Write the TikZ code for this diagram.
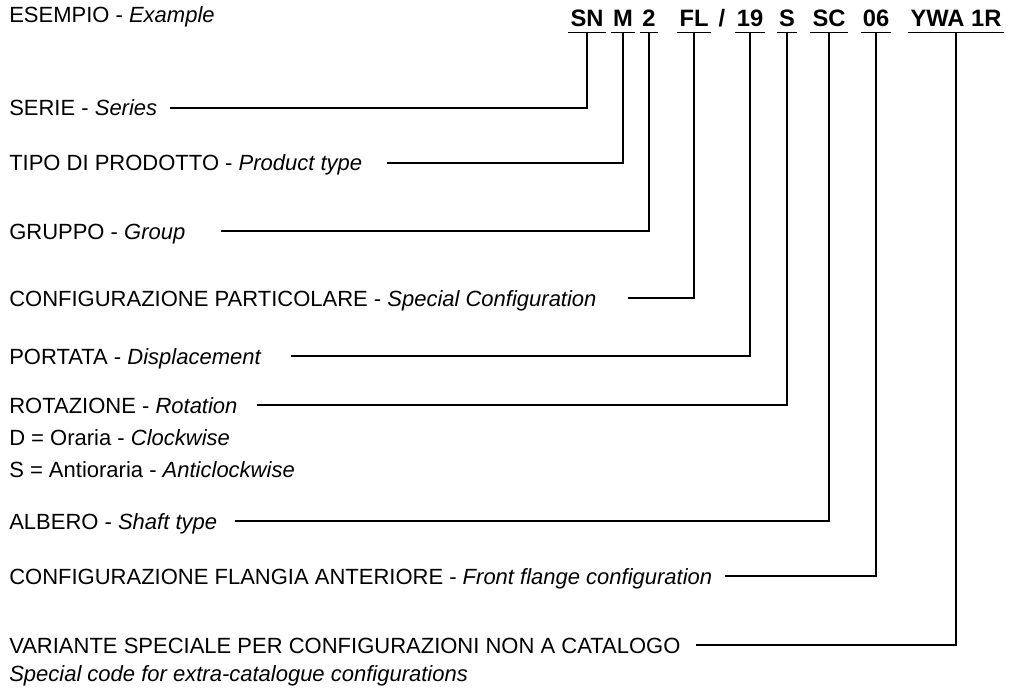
\documentclass[tikz,border=0pt]{standalone}
\usepackage{fontspec}
\setmainfont{Liberation Sans}
\usetikzlibrary{positioning,calc}
\tikzset{
  lbl/.style={anchor=base west,inner sep=0pt,font=\fontsize{16.5}{19}\selectfont},
  code/.style={anchor=base,inner xsep=1.5pt,inner ysep=3.75pt,text depth=0pt,
    font=\fontsize{17.8}{20}\selectfont\bfseries},
  uline/.style={draw=black,line width=0.9pt},
  link/.style={draw=black,line width=1.2pt},
}
\begin{document}
\begin{tikzpicture}[x=0.75pt,y=0.75pt]
  \useasboundingbox (0,0) rectangle (1013,-688);
  % codice di esempio
  \node[code] (sn) at (587,-27) {SN};
  \node[code] (m) at (623,-27) {M};
  \node[code] (two) at (649,-27) {2};
  \node[code] (fl) at (694,-27) {FL};
  \node[code] (slash) at (722,-27) {/};
  \node[code] (nineteen) at (750,-27) {19};
  \node[code] (s) at (787,-27) {S};
  \node[code] (sc) at (829,-27) {SC};
  \node[code] (zsix) at (876,-27) {06};
  \node[code] (ywa) at (956,-27) {YWA 1R};
  \foreach \c in {sn,m,two,fl,nineteen,s,sc,zsix,ywa}
    \draw[uline] (\c.south west) -- (\c.south east);
  % voci
  \node[lbl] (esempio) at (9,-23) {ESEMPIO - \textit{Example}};
  \node[lbl] (serie) at (9,-116) {SERIE - \textit{Series}};
  \node[lbl] (tipo) at (9,-171) {TIPO DI PRODOTTO - \textit{Product type}};
  \node[lbl] (gruppo) at (9,-239) {GRUPPO - \textit{Group}};
  \node[lbl] (config) at (9,-306) {CONFIGURAZIONE PARTICOLARE - \textit{Special Configuration}};
  \node[lbl] (portata) at (9,-364) {PORTATA - \textit{Displacement}};
  \node[lbl] (rotaz) at (9,-413) {ROTAZIONE - \textit{Rotation}};
  \node[lbl] (oraria) at (9,-445) {D = Oraria - \textit{Clockwise}};
  \node[lbl] (antior) at (9,-477) {S = Antioraria - \textit{Anticlockwise}};
  \node[lbl] (albero) at (9,-529) {ALBERO - \textit{Shaft type}};
  \node[lbl] (flangia) at (9,-584) {CONFIGURAZIONE FLANGIA ANTERIORE - \textit{Front flange configuration}};
  \node[lbl] (variante) at (9,-653) {VARIANTE SPECIALE PER CONFIGURAZIONI NON A CATALOGO};
  \node[lbl] (specode) at (9,-681) {\textit{Special code for extra-catalogue configurations}};
  % collegamenti
  \draw[link] ([shift={(13,8)}]serie.base east) -| (sn.south);
  \draw[link] ([shift={(25,8)}]tipo.base east) -| (m.south);
  \draw[link] ([shift={(35,8)}]gruppo.base east) -| (two.south);
  \draw[link] ([shift={(31,8)}]config.base east) -| (fl.south);
  \draw[link] ([shift={(29,8)}]portata.base east) -| (nineteen.south);
  \draw[link] ([shift={(19,8)}]rotaz.base east) -| (s.south);
  \draw[link] ([shift={(18,8)}]albero.base east) -| (sc.south);
  \draw[link] ([shift={(12,8)}]flangia.base east) -| (zsix.south);
  \draw[link] ([shift={(15,8)}]variante.base east) -| (ywa.south);
\end{tikzpicture}
\end{document}
